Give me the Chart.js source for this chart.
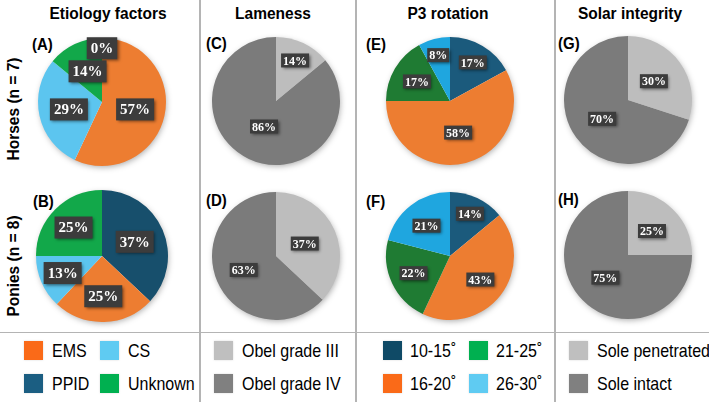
<!DOCTYPE html>
<html>
<head>
<meta charset="utf-8">
<script src="https://cdn.jsdelivr.net/npm/chart.js@4.4.1/dist/chart.umd.min.js"></script>
<style>
body { margin: 0; background: #fff; width: 709px; height: 402px; overflow: hidden; position: relative; font-family: "Liberation Sans", Arial, sans-serif; color: #000; }
.abs { position: absolute; }
.title { font-weight: bold; font-size: 15.5px; top: 4px; width: 170px; text-align: center; transform: scaleY(1.12); }
.row { font-weight: bold; font-size: 15.5px; width: 140px; text-align: center; transform: rotate(-90deg) scaleY(1.1); }
.letter { font-weight: bold; font-size: 15px; transform: scaleY(1.1); }
.vline { top: 0; width: 1.5px; height: 402px; background: #b4b4b4; }
.hline { left: 0; top: 331.5px; width: 709px; height: 1.5px; background: #b4b4b4; }
.item { font-size: 16px; white-space: nowrap; }
.item span.sw { position: absolute; left: 0; top: 0; width: 19px; height: 19px; box-shadow: 0 0 2px rgba(0,0,0,0.15); }
.item span.tx { position: absolute; top: 0; line-height: 19px; transform: scaleY(1.12); }
</style>
</head>
<body>
<script>
// values (percent)
const etioLabels = ['PPID', 'EMS', 'CS', 'Unknown'];
const etioHorses = [0, 57, 29, 14];
const etioPonies = [37, 25, 13, 25];

const obelLabels = ['Obel grade III', 'Obel grade IV'];
const lameHorses = [14, 86];
const lamePonies = [37, 63];

const rotLabels = ['10-15˚', '16-20˚', '21-25˚', '26-30˚'];
const rotHorses = [17, 58, 17, 8];
const rotPonies = [14, 43, 22, 21];

const soleLabels = ['Sole penetrated', 'Sole intact'];
const soleHorses = [30, 70];
const solePonies = [25, 75];

const colTitles = ['Etiology factors', 'Lameness', 'P3 rotation', 'Solar integrity'];
const rowTitles = ['Horses (n = 7)', 'Ponies (n = 8)'];
const letters = ['(A)', '(B)', '(C)', '(D)', '(E)', '(F)', '(G)', '(H)'];

// colours
const etioColors = ['#174f6c', '#ed7d31', '#5cc5ef', '#12a84a'];
const etioLegend = ['#1b5e82', '#fa6a18', '#5fcbf2', '#00b050'];
const grayColors = ['#bdbdbd', '#7b7b7b'];
const grayLegend = ['#bfbfbf', '#808080'];
const rotColors = ['#1b5a7c', '#ed7d31', '#1f7b33', '#1fa6df'];
const rotLegend = ['#0f4a66', '#fa6a18', '#00b050', '#5fcbf2'];

const pieShadow = {
    id: 'pieShadow',
    beforeDatasetsDraw(chart) {
        const arc = chart.getDatasetMeta(0).data[0];
        const p = arc.getProps(['x', 'y', 'outerRadius'], true);
        const ctx = chart.ctx;
        ctx.save();
        ctx.shadowColor = 'rgba(0,0,0,0.35)';
        ctx.shadowBlur = 6;
        ctx.shadowOffsetX = 1;
        ctx.shadowOffsetY = 2;
        ctx.fillStyle = '#fff';
        ctx.beginPath();
        ctx.arc(p.x, p.y, p.outerRadius - 1, 0, Math.PI * 2);
        ctx.fill();
        ctx.restore();
    }
};

const boxLabels = {
    id: 'boxLabels',
    afterDatasetsDraw(chart, args, opts) {
        const ctx = chart.ctx;
        const values = chart.data.datasets[0].data;
        ctx.save();
        ctx.font = 'bold ' + opts.size + 'px "Liberation Serif", "Times New Roman", serif';
        ctx.textAlign = 'center';
        ctx.textBaseline = 'middle';
        chart.getDatasetMeta(0).data.forEach(function (arc, i) {
            const p = arc.getProps(['x', 'y', 'startAngle', 'endAngle', 'outerRadius'], true);
            const mid = (p.startAngle + p.endAngle) / 2;
            const d = p.outerRadius * opts.dist[i];
            const x = p.x + Math.cos(mid) * d;
            const y = p.y + Math.sin(mid) * d;
            const txt = values[i] + '%';
            const w = ctx.measureText(txt).width + opts.pad * 2;
            const h = opts.h;
            ctx.shadowColor = 'rgba(0,0,0,0.5)';
            ctx.shadowBlur = 3;
            ctx.shadowOffsetX = 1.5;
            ctx.shadowOffsetY = 1.5;
            ctx.fillStyle = '#3c3c3c';
            ctx.fillRect(x - w / 2, y - h / 2, w, h);
            ctx.shadowColor = 'transparent';
            ctx.fillStyle = '#fff';
            ctx.fillText(txt, x, y + 1);
        });
        ctx.restore();
    }
};

const panels = [
    { labels: etioLabels, data: etioHorses, colors: etioColors, cx: 102, cy: 102, r: 64, size: 15, pad: 4, h: 22, dist: [0.84, 0.53, 0.53, 0.53] },
    { labels: etioLabels, data: etioPonies, colors: etioColors, cx: 102, cy: 256, r: 66, size: 15, pad: 4, h: 22, dist: [0.54, 0.61, 0.65, 0.61] },
    { labels: obelLabels, data: lameHorses, colors: grayColors, cx: 276, cy: 101, r: 64, size: 12, pad: 2, h: 14, dist: [0.7, 0.44] },
    { labels: obelLabels, data: lamePonies, colors: grayColors, cx: 276, cy: 256, r: 64, size: 12, pad: 2, h: 14, dist: [0.49, 0.55] },
    { labels: rotLabels, data: rotHorses, colors: rotColors, cx: 450, cy: 101, r: 64, size: 12, pad: 2, h: 14, dist: [0.7, 0.51, 0.6, 0.74] },
    { labels: rotLabels, data: rotPonies, colors: rotColors, cx: 450, cy: 256, r: 64, size: 12, pad: 2, h: 14, dist: [0.73, 0.6, 0.63, 0.6] },
    { labels: soleLabels, data: soleHorses, colors: grayColors, cx: 628, cy: 100, r: 64, size: 12, pad: 2, h: 14, dist: [0.5, 0.5] },
    { labels: soleLabels, data: solePonies, colors: grayColors, cx: 628, cy: 255, r: 64, size: 12, pad: 2, h: 14, dist: [0.53, 0.5] }
];

function addDiv(cls, text, css) {
    const el = document.createElement('div');
    el.className = 'abs ' + cls;
    if (text) el.textContent = text;
    Object.assign(el.style, css || {});
    document.body.appendChild(el);
    return el;
}

// grid lines
[199, 355, 554].forEach(function (x) { addDiv('vline', '', { left: x + 'px' }); });
addDiv('hline', '');

// titles
const titleX = [108, 273, 448, 630];
colTitles.forEach(function (t, i) { addDiv('title', t, { left: (titleX[i] - 85) + 'px' }); });
const rowY = [109, 266];
rowTitles.forEach(function (t, i) { addDiv('row', t, { left: (13 - 70) + 'px', top: (rowY[i] - 9) + 'px' }); });

const letterPos = [[32, 35], [33, 192], [206, 34], [206, 191], [366, 35], [366, 192], [558, 34], [558, 190]];
letters.forEach(function (t, i) { addDiv('letter', t, { left: letterPos[i][0] + 'px', top: letterPos[i][1] + 'px' }); });

// pies
panels.forEach(function (p) {
    const pad = 10;
    const size = p.r * 2 + pad * 2;
    const cv = document.createElement('canvas');
    cv.width = size;
    cv.height = size;
    cv.className = 'abs';
    cv.style.left = (p.cx - p.r - pad) + 'px';
    cv.style.top = (p.cy - p.r - pad) + 'px';
    document.body.appendChild(cv);
    new Chart(cv.getContext('2d'), {
        type: 'pie',
        data: {
            labels: p.labels,
            datasets: [{ data: p.data, backgroundColor: p.colors, borderWidth: 0 }]
        },
        options: {
            responsive: false,
            animation: false,
            radius: p.r,
            layout: { padding: 0 },
            plugins: {
                legend: { display: false },
                tooltip: { enabled: false },
                boxLabels: { size: p.size, pad: p.pad, h: p.h, dist: p.dist }
            }
        },
        plugins: [pieShadow, boxLabels]
    });
});

// legends
function legend(labels, colors, order, x0, pitch) {
    order.forEach(function (idx, k) {
        const col = Math.floor(k / 2), row = k % 2;
        const el = addDiv('item', '', { left: (x0 + col * pitch) + 'px', top: (341 + row * 33) + 'px', height: '19px' });
        const sw = document.createElement('span');
        sw.className = 'sw';
        sw.style.background = colors[idx];
        el.appendChild(sw);
        const tx = document.createElement('span');
        tx.className = 'tx';
        tx.textContent = labels[idx];
        tx.style.left = (pitch === 86 ? 27 : 28) + 'px';
        el.appendChild(tx);
    });
}
legend(etioLabels, etioLegend, [1, 0, 2, 3], 24, 76);
legend(obelLabels, grayLegend, [0, 1], 214, 0);
legend(rotLabels, rotLegend, [0, 1, 2, 3], 383, 86);
legend(soleLabels, grayLegend, [0, 1], 569, 0);
</script>
</body>
</html>
